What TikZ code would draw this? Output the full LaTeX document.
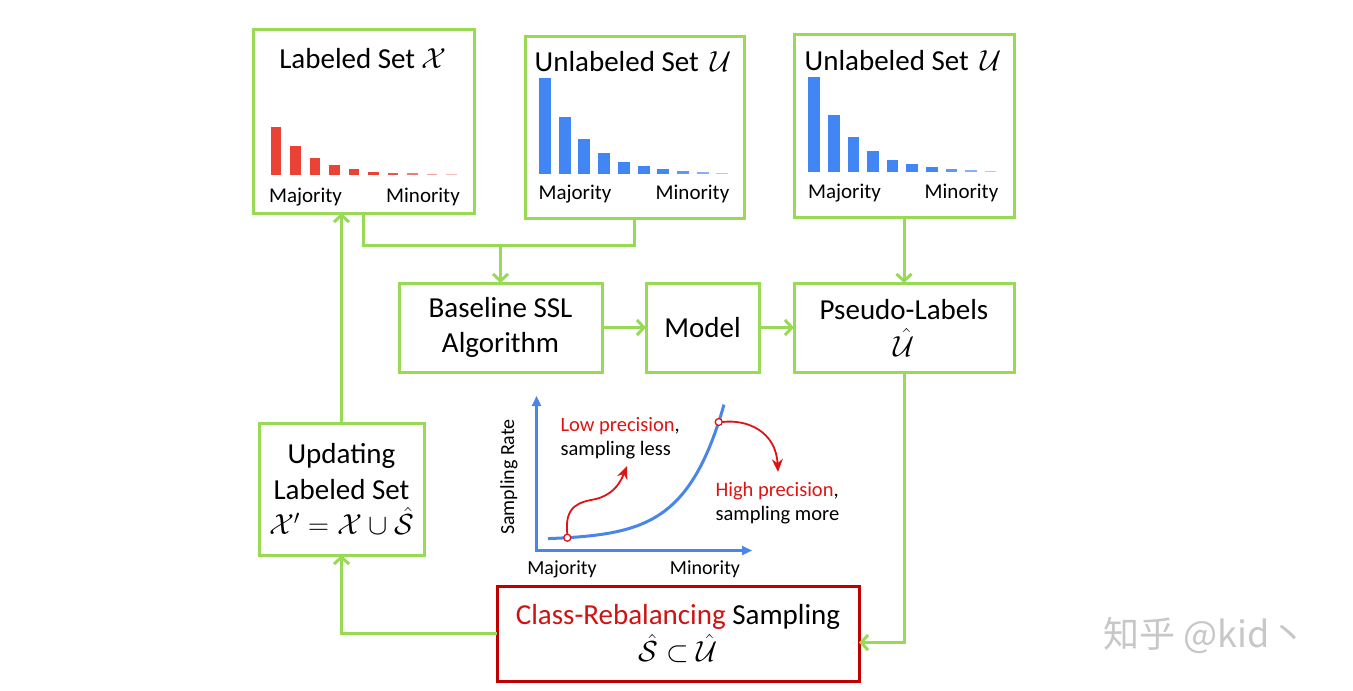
\RequirePackage{fix-cm}
\documentclass[tikz,border=0pt]{standalone}
\usepackage{fontspec}
\setmainfont{Carlito}
\newfontfamily\cjkfont{Noto Sans CJK SC}
\usepackage{tikz,amsmath}
\usetikzlibrary{positioning, arrows.meta}
\definecolor{lgreen}{RGB}{152,218,86}
\definecolor{boxred}{RGB}{192,0,0}
\definecolor{tred}{RGB}{204,20,20}
\definecolor{barred}{RGB}{234,67,53}
\definecolor{barblue}{RGB}{66,133,244}
\definecolor{cblue}{RGB}{74,134,232}
\definecolor{ared}{RGB}{222,20,20}
\tikzstyle{process} = [rectangle, draw=lgreen, line width=3pt, outer sep=0pt, align=center, font=\fontsize{29}{35}\selectfont, fill=white]
\tikzstyle{setbox} = [rectangle, draw=lgreen, line width=3pt, outer sep=0pt, minimum width=220pt, minimum height=184pt]
\tikzstyle{settitle} = [font=\fontsize{29}{35}\selectfont]
\tikzstyle{histlabel} = [font=\fontsize{21}{25}\selectfont]
\tikzstyle{chartlabel} = [font=\fontsize{20}{24}\selectfont]
\tikzstyle{chartnote} = [font=\fontsize{20.5}{24}\selectfont, align=left, anchor=west]
\tikzstyle{link} = [draw=lgreen, line width=3pt]
\tikzstyle{arrow} = [draw=lgreen, line width=3pt, -{Straight Barb[length=7pt,width=15pt]}]
\tikzstyle{axisarrow} = [draw=cblue, line width=2.3pt, {Triangle[length=10pt,width=9pt]}-{Triangle[length=10pt,width=9pt]}]
\tikzstyle{redarrow} = [draw=ared, line width=1.8pt, -{Stealth[length=13pt,width=11pt]}]

\begin{document}
\begin{tikzpicture}[x=1pt, y=-1pt]
\useasboundingbox (0,0) rectangle (1353,691);

% Data sets
\node (lab) [setbox, minimum width=221pt] at (363.5,121) {};
\node (unl) [setbox, minimum width=219pt, minimum height=182pt] at (634.5,127) {};
\node (unr) [setbox, minimum height=183pt] at (904,125.5) {};

\node (labT) [settitle] at (363,59) {Labeled Set $\mathcal{X}$};
\node (unlT) [settitle] at (633,62) {Unlabeled Set\, $\mathcal{U}$};
\node (unrT) [settitle] at (903,61) {Unlabeled Set\, $\mathcal{U}$};

\foreach \h/\o [count=\i from 0] in {48/1, 29/1, 17/1, 10/1, 6/1, 3.5/1, 2.2/.9, 1.8/.7, 1.5/.5, 1.2/.35}
  \fill[barred, opacity=\o] ({270.7+19.5*\i}, 175) rectangle ++(10.3, -\h);
\foreach \h/\o [count=\i from 0] in {96/1, 57/1, 35/1, 21/1, 12/1, 8/1, 5/1, 3/.85, 2/.65, 1.2/.45}
  \fill[barblue, opacity=\o] ({539+19.7*\i}, 174) rectangle ++(12, -\h);
\foreach \h/\o [count=\i from 0] in {95/1, 57/1, 35/1, 21/1, 12/1, 8/1, 5/1, 3/.85, 2/.65, 1.2/.45}
  \fill[barblue, opacity=\o] ({808.3+19.6*\i}, 172.3) rectangle ++(11.7, -\h);

\node (labMa) [histlabel] at (305.5,197) {Majority};
\node (labMi) [histlabel] at (423,197) {Minority};
\node (unlMa) [histlabel] at (575,194) {Majority};
\node (unlMi) [histlabel] at (692.5,194) {Minority};
\node (unrMa) [histlabel] at (844.5,193) {Majority};
\node (unrMi) [histlabel] at (961.5,193) {Minority};

% Training row
\node (ssl) [process, minimum width=203pt, minimum height=89pt] at (500.5,327.5) {Baseline SSL\\Algorithm};
\node (model) [process, right=44pt of ssl, minimum width=113pt, minimum height=89pt] {Model};
\node (pseudo) [process, right=35pt of model, minimum width=220pt, minimum height=89pt, font=\fontsize{29}{37}\selectfont] {Pseudo-Labels\\$\hat{\mathcal{U}}$};

% Sampling and update
\node (upd) [process, minimum width=165pt, minimum height=132pt, font=\fontsize{29}{35.5}\selectfont] at (341.5,489) {Updating\\Labeled Set\\$\mathcal{X}' = \mathcal{X} \cup \hat{\mathcal{S}}$};
\node (crs) [process, draw=boxred, minimum width=362pt, minimum height=95pt, font=\fontsize{29}{37}\selectfont] at (678,633.5) {{\color{tred}Class-Rebalancing} Sampling\\$\hat{\mathcal{S}} \subset \hat{\mathcal{U}}$};

% Sampling rate chart
\coordinate (org) at (536.5,550.5);
\draw [axisarrow] (536.5,396) -- (org) -- (752,550.5);
\draw [cblue, line width=3pt] plot[domain=548:724, samples=60] (\x, {540-1.405*exp(0.02596*(\x-548))});
\coordinate (lo) at (567.3,537.7);
\coordinate (hi) at (718.7,422);
\draw [redarrow] ([yshift=3.5pt]lo) .. controls (564,505) and (580,502) .. (596,499) .. controls (611,495) and (619,486) .. (627,466);
\draw [redarrow] ([xshift=3.5pt]hi) .. controls (748,419) and (776,432) .. (778,472);
\draw [ared, line width=1.3pt, fill=white] (lo) circle (3.5pt);
\draw [ared, line width=1.3pt, fill=white] (hi) circle (3.5pt);

\node (low) [chartnote] at (557,438) {{\color{ared}Low precision},\\sampling less};
\node (high) [chartnote] at (712,503) {{\color{ared}High precision},\\sampling more};
\node (rate) [chartlabel, rotate=90] at (509,477) {Sampling Rate};
\node (maj) [chartlabel] at (562,569) {Majority};
\node (min) [chartlabel] at (705,569) {Minority};

% Connecting arrows
\coordinate (join) at (500.5,245);
\draw [link] (lab.south) |- (join) -| (unl.south);
\draw [arrow] (join) -- (ssl.north);
\draw [arrow] (unr.south) -- (pseudo.north);
\draw [arrow] (ssl) -- (model);
\draw [arrow] (model) -- (pseudo);
\draw [arrow] (pseudo.south) |- ([yshift=-9pt]crs.east);
\draw [arrow] (crs.west) -| (upd.south);
\draw [arrow] (upd.north) -- (upd.north |- lab.south);

% Watermark
\node (mark) [text=black!22, font=\cjkfont\fontsize{36}{40}\selectfont] at (1205,635) {知乎 @kid丶};

\end{tikzpicture}
\end{document}
